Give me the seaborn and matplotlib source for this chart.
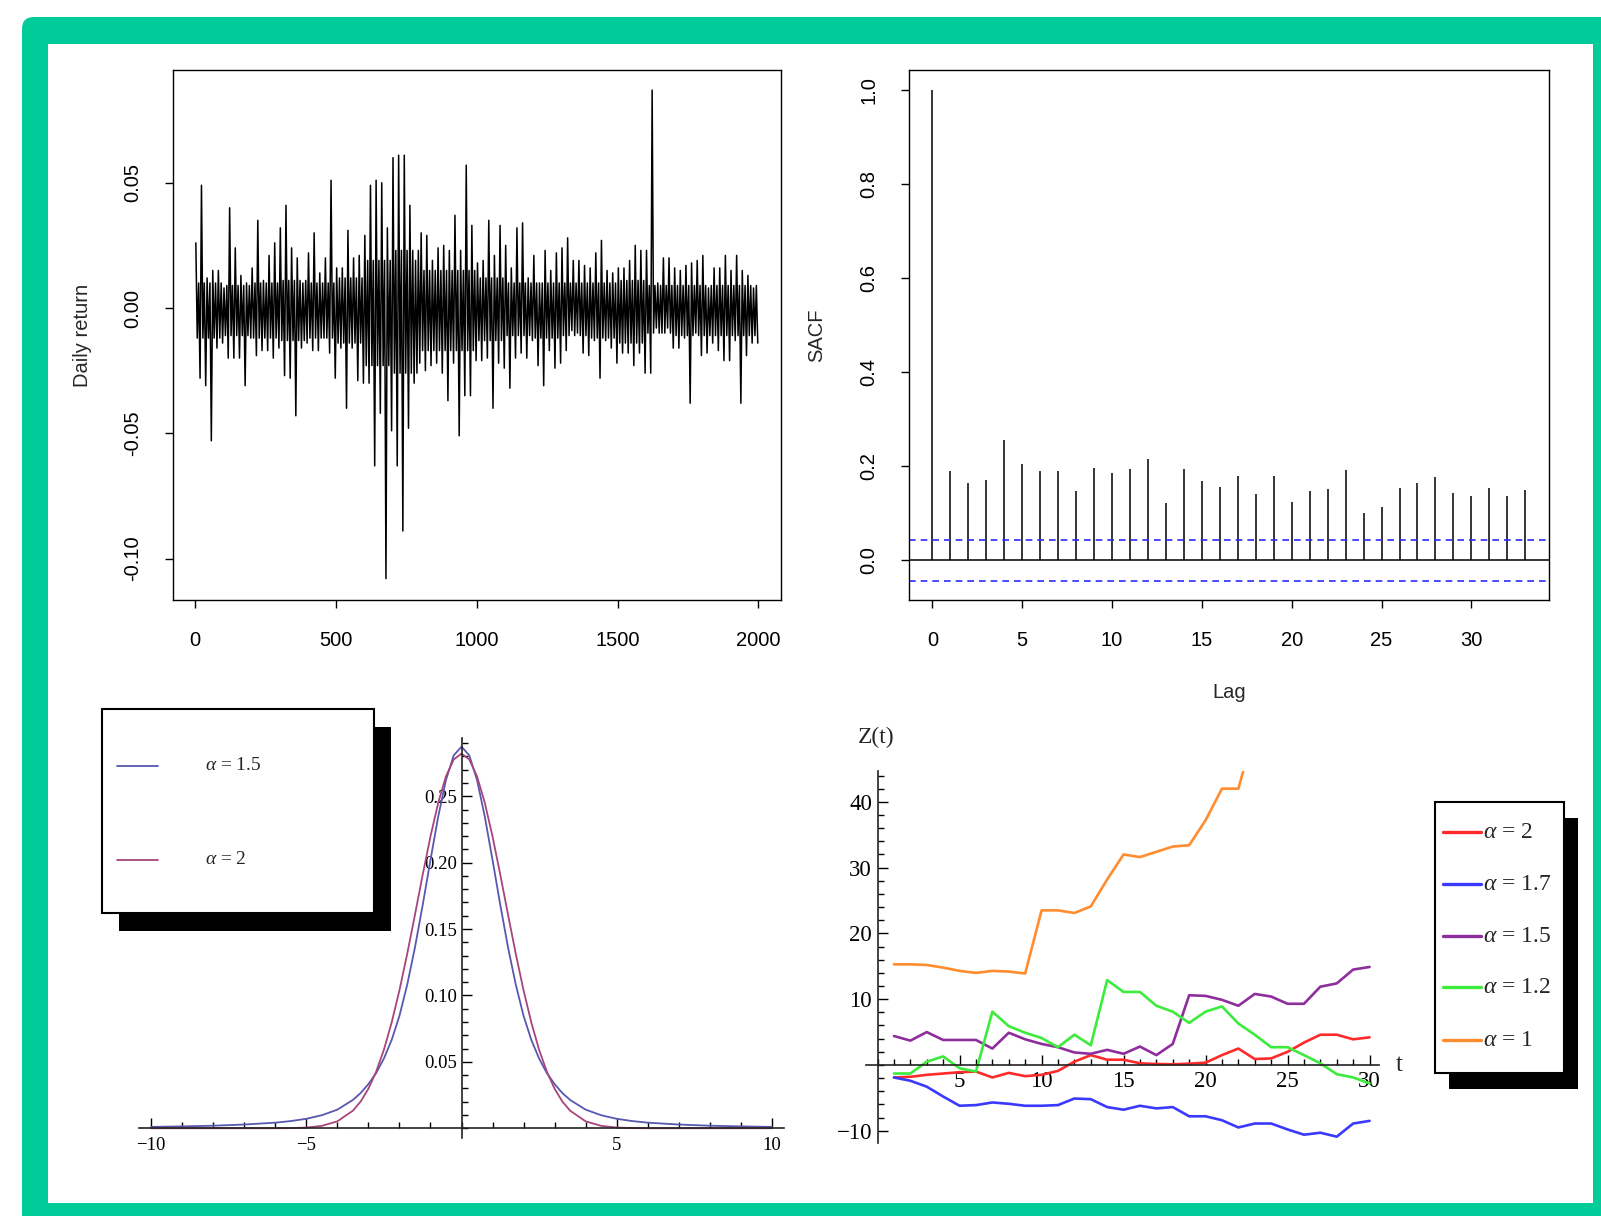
import numpy as np
import pandas as pd
import matplotlib
matplotlib.use("Agg")
import matplotlib.pyplot as plt
from matplotlib.patches import Rectangle, FancyBboxPatch
from matplotlib.lines import Line2D
from matplotlib.transforms import IdentityTransform
from matplotlib.ticker import MultipleLocator
import seaborn as sns

# ---- daily returns: per 20-day bin, top and bottom of the trace
ret_hi = [0.026, 0.049, 0.012, 0.015, 0.015, 0.008, 0.040, 0.024, 0.013, 0.010,
          0.016, 0.035, 0.011, 0.021, 0.026, 0.032, 0.041, 0.024, 0.020, 0.010,
          0.022, 0.030, 0.014, 0.020, 0.051, 0.016, 0.016, 0.031, 0.020, 0.021,
          0.029, 0.049, 0.051, 0.050, 0.032, 0.060, 0.061, 0.061, 0.041, 0.019,
          0.030, 0.029, 0.019, 0.024, 0.025, 0.023, 0.037, 0.023, 0.057, 0.033,
          0.018, 0.019, 0.035, 0.021, 0.033, 0.025, 0.016, 0.032, 0.034, 0.012,
          0.021, 0.010, 0.023, 0.015, 0.022, 0.024, 0.028, 0.019, 0.019, 0.017,
          0.016, 0.022, 0.027, 0.015, 0.014, 0.016, 0.016, 0.019, 0.025, 0.023,
          0.023, 0.087, 0.010, 0.020, 0.020, 0.016, 0.015, 0.017, 0.018, 0.019,
          0.021, 0.008, 0.016, 0.016, 0.021, 0.015, 0.021, 0.015, 0.013, 0.008]
ret_lo = [-0.028, -0.031, -0.053, -0.016, -0.014, -0.020, -0.020, -0.020, -0.031, -0.012,
          -0.019, -0.017, -0.017, -0.020, -0.016, -0.027, -0.028, -0.043, -0.016, -0.014,
          -0.017, -0.017, -0.012, -0.018, -0.028, -0.016, -0.040, -0.016, -0.029, -0.030,
          -0.030, -0.063, -0.042, -0.108, -0.049, -0.063, -0.089, -0.048, -0.030, -0.022,
          -0.025, -0.023, -0.022, -0.026, -0.037, -0.022, -0.051, -0.035, -0.035, -0.021,
          -0.021, -0.020, -0.040, -0.022, -0.024, -0.032, -0.020, -0.018, -0.020, -0.013,
          -0.023, -0.031, -0.017, -0.024, -0.022, -0.017, -0.009, -0.010, -0.018, -0.019,
          -0.013, -0.028, -0.013, -0.016, -0.022, -0.018, -0.018, -0.023, -0.018, -0.026,
          -0.026, -0.008, -0.010, -0.008, -0.016, -0.016, -0.012, -0.038, -0.010, -0.019,
          -0.018, -0.014, -0.017, -0.021, -0.021, -0.013, -0.038, -0.019, -0.014, -0.014]
# solid core of the trace, per 100-day block
core_hi = [0.010, 0.009, 0.010, 0.011, 0.010, 0.012, 0.019, 0.023, 0.015, 0.015,
           0.012, 0.010, 0.010, 0.010, 0.010, 0.011, 0.009, 0.009, 0.009, 0.009]
core_lo = [-0.012, -0.011, -0.012, -0.013, -0.012, -0.014, -0.023, -0.026, -0.017, -0.017,
           -0.013, -0.011, -0.012, -0.011, -0.012, -0.014, -0.010, -0.011, -0.011, -0.011]

# ---- sample ACF, lags 0..33
acf_lag = list(range(34))
acf_val = [1.0, 0.190, 0.164, 0.170, 0.257, 0.205, 0.190, 0.190, 0.148, 0.196,
           0.185, 0.195, 0.216, 0.123, 0.195, 0.169, 0.157, 0.179, 0.141, 0.180,
           0.125, 0.147, 0.152, 0.193, 0.100, 0.114, 0.154, 0.164, 0.177, 0.144,
           0.137, 0.154, 0.138, 0.149]
acf_band = 0.0438

# ---- stable densities (half grid, symmetric)
dens_x = [0, 0.25, 0.5, 0.75, 1, 1.25, 1.5, 1.75, 2, 2.25, 2.5, 2.75, 3, 3.25, 3.5,
          4, 4.5, 5, 5.5, 6, 7, 8, 9, 10]
dens_a15 = [0.2873, 0.2808, 0.2623, 0.2347, 0.2020, 0.1681, 0.1361, 0.1080, 0.0846,
            0.0665, 0.0525, 0.0415, 0.0332, 0.0265, 0.0213, 0.0140, 0.0098, 0.0071,
            0.0054, 0.0042, 0.0028, 0.0019, 0.0014, 0.0010]
dens_a2 = [0.2821, 0.2777, 0.2650, 0.2451, 0.2197, 0.1909, 0.1607, 0.1312, 0.1038,
           0.0796, 0.0591, 0.0426, 0.0297, 0.0201, 0.0132, 0.0052, 0.0018, 0.0005,
           0.0001, 0.0, 0.0, 0.0, 0.0, 0.0]

# ---- simulated paths Z(t)
z_t = list(range(1, 31))
z_a2 = [-1.9, -1.8, -1.5, -1.3, -1.1, -1.0, -1.9, -1.2, -1.7, -1.5, -0.9, 0.5, 1.5, 0.8, 0.8,
        0.25, 0.15, 0.1, 0.2, 0.35, 1.5, 2.5, 0.9, 1.0, 2.0, 3.4, 4.6, 4.6, 3.9, 4.2]
z_a17 = [-1.9, -2.4, -3.3, -4.8, -6.2, -6.1, -5.7, -5.9, -6.2, -6.2, -6.1, -5.1, -5.2, -6.4, -6.8,
         -6.2, -6.6, -6.4, -7.8, -7.8, -8.4, -9.5, -8.9, -8.9, -9.8, -10.6, -10.3, -10.9, -8.9, -8.5]
z_a15 = [4.4, 3.7, 5.0, 3.8, 3.8, 3.8, 2.5, 4.9, 3.9, 3.2, 2.7, 1.9, 1.7, 2.3, 1.7,
         2.8, 1.5, 3.2, 10.6, 10.5, 9.9, 9.0, 10.8, 10.4, 9.3, 9.3, 11.9, 12.4, 14.5, 14.9]
z_a12 = [-1.3, -1.3, 0.5, 1.3, -0.5, -1.0, 8.1, 5.9, 4.9, 4.1, 2.7, 4.6, 3.0, 12.9, 11.1,
         11.1, 9.0, 8.1, 6.4, 8.1, 8.9, 6.3, 4.6, 2.7, 2.7, 1.5, 0.25, -1.4, -1.9, -2.8]
z_a1 = [15.3, 15.3, 15.2, 14.8, 14.3, 14.0, 14.3, 14.2, 13.9, 23.5, 23.5, 23.1, 24.1, 28.2,
        32.0, 31.6, 32.4, 33.2, 33.4, 37.2, 42.0, 42.0, 51.0]
z_labels = ["2", "1.7", "1.5", "1.2", "1"]
z_colors = ["#FF2A2A", "#3A3AFF", "#8E2E9C", "#3CEB3C", "#FF8C2E"]

W, H = 1601, 1216
SERIF = ["Liberation Serif", "DejaVu Serif"]

sns.set_theme(style="ticks")
plt.rcParams["font.family"] = ["Liberation Sans", "DejaVu Sans"]
plt.rcParams["mathtext.fontset"] = "custom"
plt.rcParams["mathtext.it"] = "Liberation Serif:italic"
plt.rcParams["mathtext.rm"] = "Liberation Serif"
plt.rcParams["axes.edgecolor"] = "black"
plt.rcParams["xtick.color"] = "black"
plt.rcParams["ytick.color"] = "black"

fig = plt.figure(figsize=(W / 100, H / 100), dpi=100, facecolor="white")
px = IdentityTransform()


def add_ax(x0, y0, x1, y1):
    return fig.add_axes([x0 / W, 1 - y1 / H, (x1 - x0) / W, (y1 - y0) / H])


def math_axes(ax):
    # axes crossing at the origin, Mathematica style
    ax.set_facecolor("none")
    for side in ("top", "right"):
        ax.spines[side].set_visible(False)
    for side in ("left", "bottom"):
        ax.spines[side].set_position(("data", 0))
        ax.spines[side].set_linewidth(1.2)
        ax.spines[side].set_color("#222222")


# green frame
fig.patches.append(FancyBboxPatch((22, -30), W + 30 - 22, H + 30 - 17,
                                  boxstyle="round,pad=0,rounding_size=12",
                                  fc="#00CC99", ec="none", transform=px, zorder=-20))
fig.patches.append(Rectangle((48, H - 1203), 1593 - 48, 1203 - 44, fc="white",
                             ec="none", transform=px, zorder=-19))

# ---------- top left: daily returns
ax1 = add_ax(172.6, 70.5, 781, 600.4)
nb = len(ret_hi)
blk = np.arange(nb) // 5
ret_day = (np.repeat(np.arange(nb) * 20, 4) + np.tile([2.5, 7.5, 12.5, 17.5], nb))
ret_val = np.column_stack([ret_hi, np.array(core_lo)[blk],
                           np.array(core_hi)[blk], ret_lo]).ravel()
ret_df = pd.DataFrame({"day": ret_day, "ret": ret_val})
sns.lineplot(data=ret_df, x="day", y="ret", color="black", lw=1.1,
             estimator=None, ax=ax1)
ax1.set_xlim(-80, 2080)
ax1.set_ylim(-0.1167, 0.0948)
ax1.set_xticks([0, 500, 1000, 1500, 2000])
ax1.set_yticks([-0.10, -0.05, 0.0, 0.05], labels=["-0.10", "-0.05", "0.00", "0.05"],
               rotation=90, va="center")
ax1.set_xlabel("")
ax1.set_ylabel("Daily return", fontsize=14.5, labelpad=22)

# ---------- top right: SACF
ax2 = add_ax(908.7, 70.5, 1549, 600.4)
ax2.vlines(acf_lag, 0, acf_val, color="black", lw=1.1)
ax2.axhline(0, color="black", lw=1.1)
for b in (acf_band, -acf_band):
    ax2.axhline(b, color="#2B2BFF", lw=1.2, ls=(0, (4, 3)))
ax2.set_xlim(-1.32, 34.32)
ax2.set_ylim(-0.0848, 1.041)
ax2.set_xticks([0, 5, 10, 15, 20, 25, 30])
ax2.set_yticks([0, 0.2, 0.4, 0.6, 0.8, 1.0],
               labels=["0.0", "0.2", "0.4", "0.6", "0.8", "1.0"], rotation=90, va="center")
ax2.set_xlabel("Lag", fontsize=14.5, labelpad=24)
ax2.set_ylabel("SACF", fontsize=14.5, labelpad=24)

for ax in (ax1, ax2):
    ax.tick_params(direction="out", length=6, width=1, pad=16, labelsize=14.5)
    for s in ax.spines.values():
        s.set_visible(True)
        s.set_linewidth(1)

# ---------- bottom left: densities
ax3 = add_ax(138.7, 737.8, 784.3, 1138.2)
math_axes(ax3)
dx = np.r_[-np.array(dens_x[::-1]), dens_x[1:]]
sns.lineplot(x=dx, y=np.r_[dens_a15[::-1], dens_a15[1:]], color="#5858B0",
             lw=1.3, estimator=None, sort=False, ax=ax3)
sns.lineplot(x=dx, y=np.r_[dens_a2[::-1], dens_a2[1:]], color="#A8457A",
             lw=1.3, estimator=None, sort=False, ax=ax3)
ax3.set_xlim(-10.4, 10.4)
ax3.set_ylim(-0.0075, 0.294)
ax3.set_xticks([-10, -5, 5, 10], labels=["\u221210", "\u22125", "5", "10"],
               fontfamily=SERIF, fontsize=13.5)
ax3.set_yticks([0.05, 0.10, 0.15, 0.20, 0.25],
               labels=["0.05", "0.10", "0.15", "0.20", "0.25"],
               fontfamily=SERIF, fontsize=13.5)
ax3.xaxis.set_minor_locator(MultipleLocator(1))
ax3.yaxis.set_minor_locator(MultipleLocator(0.01))
ax3.tick_params(axis="x", which="major", pad=6)
ax3.tick_params(axis="y", which="major", pad=3)

# ---------- bottom right: Z(t)
ax4 = add_ax(866.1, 770.9, 1379.4, 1142.6)
math_axes(ax4)
z_series = [z_a2, z_a17, z_a15, z_a12, z_a1]
z_df = pd.concat([pd.DataFrame({"t": z_t[:len(v)], "Z": v, "alpha": lab})
                  for v, lab in zip(z_series, z_labels)])
sns.lineplot(data=z_df, x="t", y="Z", hue="alpha", hue_order=z_labels,
             palette=z_colors, lw=1.9, estimator=None, legend=False, ax=ax4)
ax4.set_xlim(-0.7, 30.6)
ax4.set_ylim(-11.8, 44.7)
ax4.set_xticks([5, 10, 15, 20, 25, 30], labels=["5", "10", "15", "20", "25", "30"],
               fontfamily=SERIF, fontsize=16.5)
ax4.set_yticks([-10, 10, 20, 30, 40], labels=["\u221210", "10", "20", "30", "40"],
               fontfamily=SERIF, fontsize=16.5)
ax4.xaxis.set_minor_locator(MultipleLocator(1))
ax4.yaxis.set_minor_locator(MultipleLocator(2))
ax4.tick_params(axis="x", which="major", pad=4)
ax4.tick_params(axis="y", which="major", pad=4)
ax4.text(31.6, 0, "t", fontfamily=SERIF, fontsize=18, va="center", ha="left")

for ax in (ax3, ax4):
    ax.set_xlabel("")
    ax.set_ylabel("")
    ax.tick_params(which="both", direction="in", width=1)
    ax.tick_params(which="major", length=7)
    ax.tick_params(which="minor", length=4.5)

fig.text(876, H - 737, "Z(t)", transform=px, fontfamily=SERIF, fontsize=17,
         ha="center", va="center")


# ---------- Mathematica-style legends
def legend_box(x0, y0, x1, y1, sx, sy):
    fig.patches.append(Rectangle((x0 + sx, H - y1 - sy), x1 - x0, y1 - y0, fc="black",
                                 ec="none", transform=px, zorder=5))
    fig.patches.append(Rectangle((x0, H - y1), x1 - x0, y1 - y0, fc="white",
                                 ec="black", lw=1.5, transform=px, zorder=6))


legend_box(102, 708.6, 373.7, 912.8, 17, 18)
for y, col, lab in [(765.8, "#5858B0", "1.5"), (859.7, "#A8457A", "2")]:
    fig.lines.append(Line2D([117.4, 158.3], [H - y, H - y], color=col, lw=1.3,
                            transform=px, zorder=7))
    fig.text(205, H - y, r"$\alpha$ = " + lab, transform=px, fontfamily=SERIF,
             fontsize=14, va="center", ha="left", zorder=7)

legend_box(1435, 801.5, 1564, 1072.5, 14, 16)
for y, col, lab in zip([832.1, 884.2, 936.3, 987.3, 1040.4], z_colors, z_labels):
    fig.lines.append(Line2D([1442.7, 1480.5], [H - y, H - y], color=col, lw=2.4,
                            transform=px, zorder=7))
    fig.text(1483, H - y, r"$\alpha$ = " + lab, transform=px, fontfamily=SERIF,
             fontsize=17, va="center", ha="left", zorder=7)

fig.savefig("out.png", dpi=100)
